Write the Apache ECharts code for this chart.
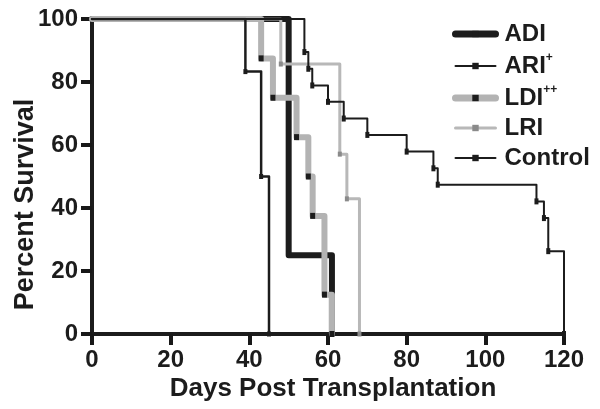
<!DOCTYPE html>
<html><head><meta charset="utf-8">
<script src="https://cdn.jsdelivr.net/npm/echarts@6/dist/echarts.min.js"></script>
<style>html,body{margin:0;padding:0;background:#fff}#c{width:600px;height:409px}</style>
</head><body><div id="c"></div>
<script>
const xTicks = [0, 20, 40, 60, 80, 100, 120];
const yTicks = [0, 20, 40, 60, 80, 100];
const adiDays = [0, 50, 61];
const adiSurv = [100, 25, 0];
const ariDays = [0, 54, 55, 56, 60, 64, 70, 80, 86.8, 87.9, 113, 114.9, 116, 120];
const ariSurv = [100, 89.5, 84.2, 78.9, 73.7, 68.4, 63.2, 57.9, 52.6, 47.4, 42.1, 36.8, 26.3, 0];
const ldiDays = [0, 43, 46, 52, 55, 56.1, 59.1, 61];
const ldiSurv = [100, 87.5, 75, 62.5, 50, 37.5, 12.5, 0];
const lriDays = [0, 48, 63, 64.8, 68];
const lriSurv = [100, 85.7, 57.1, 42.9, 0];
const ctrlDays = [0, 39, 43, 45];
const ctrlSurv = [100, 83.3, 50, 0];

const FONT = 'Liberation Sans, Arial, sans-serif';
const INK = '#1c1c1c';

function pts(days, surv) {
  return days.map((d, i) => i === 0 ? { value: [d, surv[i]], symbol: 'none' } : [d, surv[i]]);
}

function kmSeries(name, days, surv, lineColor, width, symColor, symSize) {
  return {
    name: name,
    type: 'line',
    step: 'end',
    data: pts(days, surv),
    symbol: 'rect',
    symbolSize: symSize,
    showAllSymbol: true,
    lineStyle: { color: lineColor, width: width, join: 'round', cap: 'round' },
    itemStyle: { color: symColor },
    emphasis: { disabled: true }
  };
}

const chart = echarts.init(document.getElementById('c'));
chart.setOption({
  animation: false,
  grid: { left: 92, right: 36, top: 19, bottom: 75 },
  legend: {
    orient: 'vertical',
    left: 452,
    top: 22,
    padding: 0,
    itemWidth: 40,
    itemHeight: 8,
    itemGap: 6,
    data: [
      { name: 'ADI', lineStyle: { width: 7, cap: 'round' } },
      { name: 'ARI+', lineStyle: { width: 2 } },
      { name: 'LDI++', lineStyle: { width: 7, cap: 'round' } },
      { name: 'LRI', lineStyle: { width: 3 } },
      { name: 'Control', lineStyle: { width: 2 } }
    ],
    formatter: function (n) {
      if (n === 'ARI+') return '{n|ARI}{s|+}';
      if (n === 'LDI++') return '{n|LDI}{s|++}';
      return '{n|' + n + '}';
    },
    textStyle: {
      padding: [0, 0, 0, 4],
      rich: {
        n: { fontSize: 24, fontWeight: 'bold', fontFamily: FONT, color: INK, lineHeight: 28 },
        s: { fontSize: 12, fontWeight: 'bold', fontFamily: FONT, color: INK, lineHeight: 28, verticalAlign: 'top' }
      }
    }
  },
  xAxis: {
    type: 'value', min: xTicks[0], max: xTicks[xTicks.length - 1], interval: 20,
    name: 'Days Post Transplantation', nameLocation: 'middle', nameGap: 42, nameMoveOverlap: false,
    nameTextStyle: { fontSize: 26, fontWeight: 'bold', fontFamily: FONT, color: INK, padding: [0, 0, 0, 10] },
    axisLine: { show: true, lineStyle: { color: INK, width: 4 } },
    axisTick: { show: true, length: 11, lineStyle: { color: '#181818', width: 4 } },
    axisLabel: { fontSize: 24, fontWeight: 'bold', fontFamily: FONT, color: INK, margin: 14 },
    splitLine: { show: true, lineStyle: { color: '#ffffff', opacity: 0 } }
  },
  yAxis: {
    type: 'value', min: yTicks[0], max: yTicks[yTicks.length - 1], interval: 20,
    name: 'Percent Survival', nameLocation: 'middle', nameGap: 53, nameMoveOverlap: false,
    nameTextStyle: { fontSize: 27, fontWeight: 'bold', fontFamily: FONT, color: INK, padding: [0, 56, 0, 0] },
    axisLine: { show: true, lineStyle: { color: INK, width: 4 } },
    axisTick: { show: true, length: 11, lineStyle: { color: '#181818', width: 4 } },
    axisLabel: { fontSize: 24, fontWeight: 'bold', fontFamily: FONT, color: INK, margin: 14 },
    splitLine: { show: true, lineStyle: { color: '#ffffff', opacity: 0 } }
  },
  series: [
    kmSeries('ADI', adiDays, adiSurv, INK, 6, INK, [2, 5]),
    kmSeries('LDI++', ldiDays, ldiSurv, '#b3b3b3', 6, INK, [5, 6]),
    kmSeries('LRI', lriDays, lriSurv, '#b8b8b8', 3, '#8a8a8a', [4, 5]),
    kmSeries('ARI+', ariDays, ariSurv, INK, 2, INK, [4, 6]),
    kmSeries('Control', ctrlDays, ctrlSurv, INK, 2.5, INK, [4, 5])
  ]
});
</script></body></html>
